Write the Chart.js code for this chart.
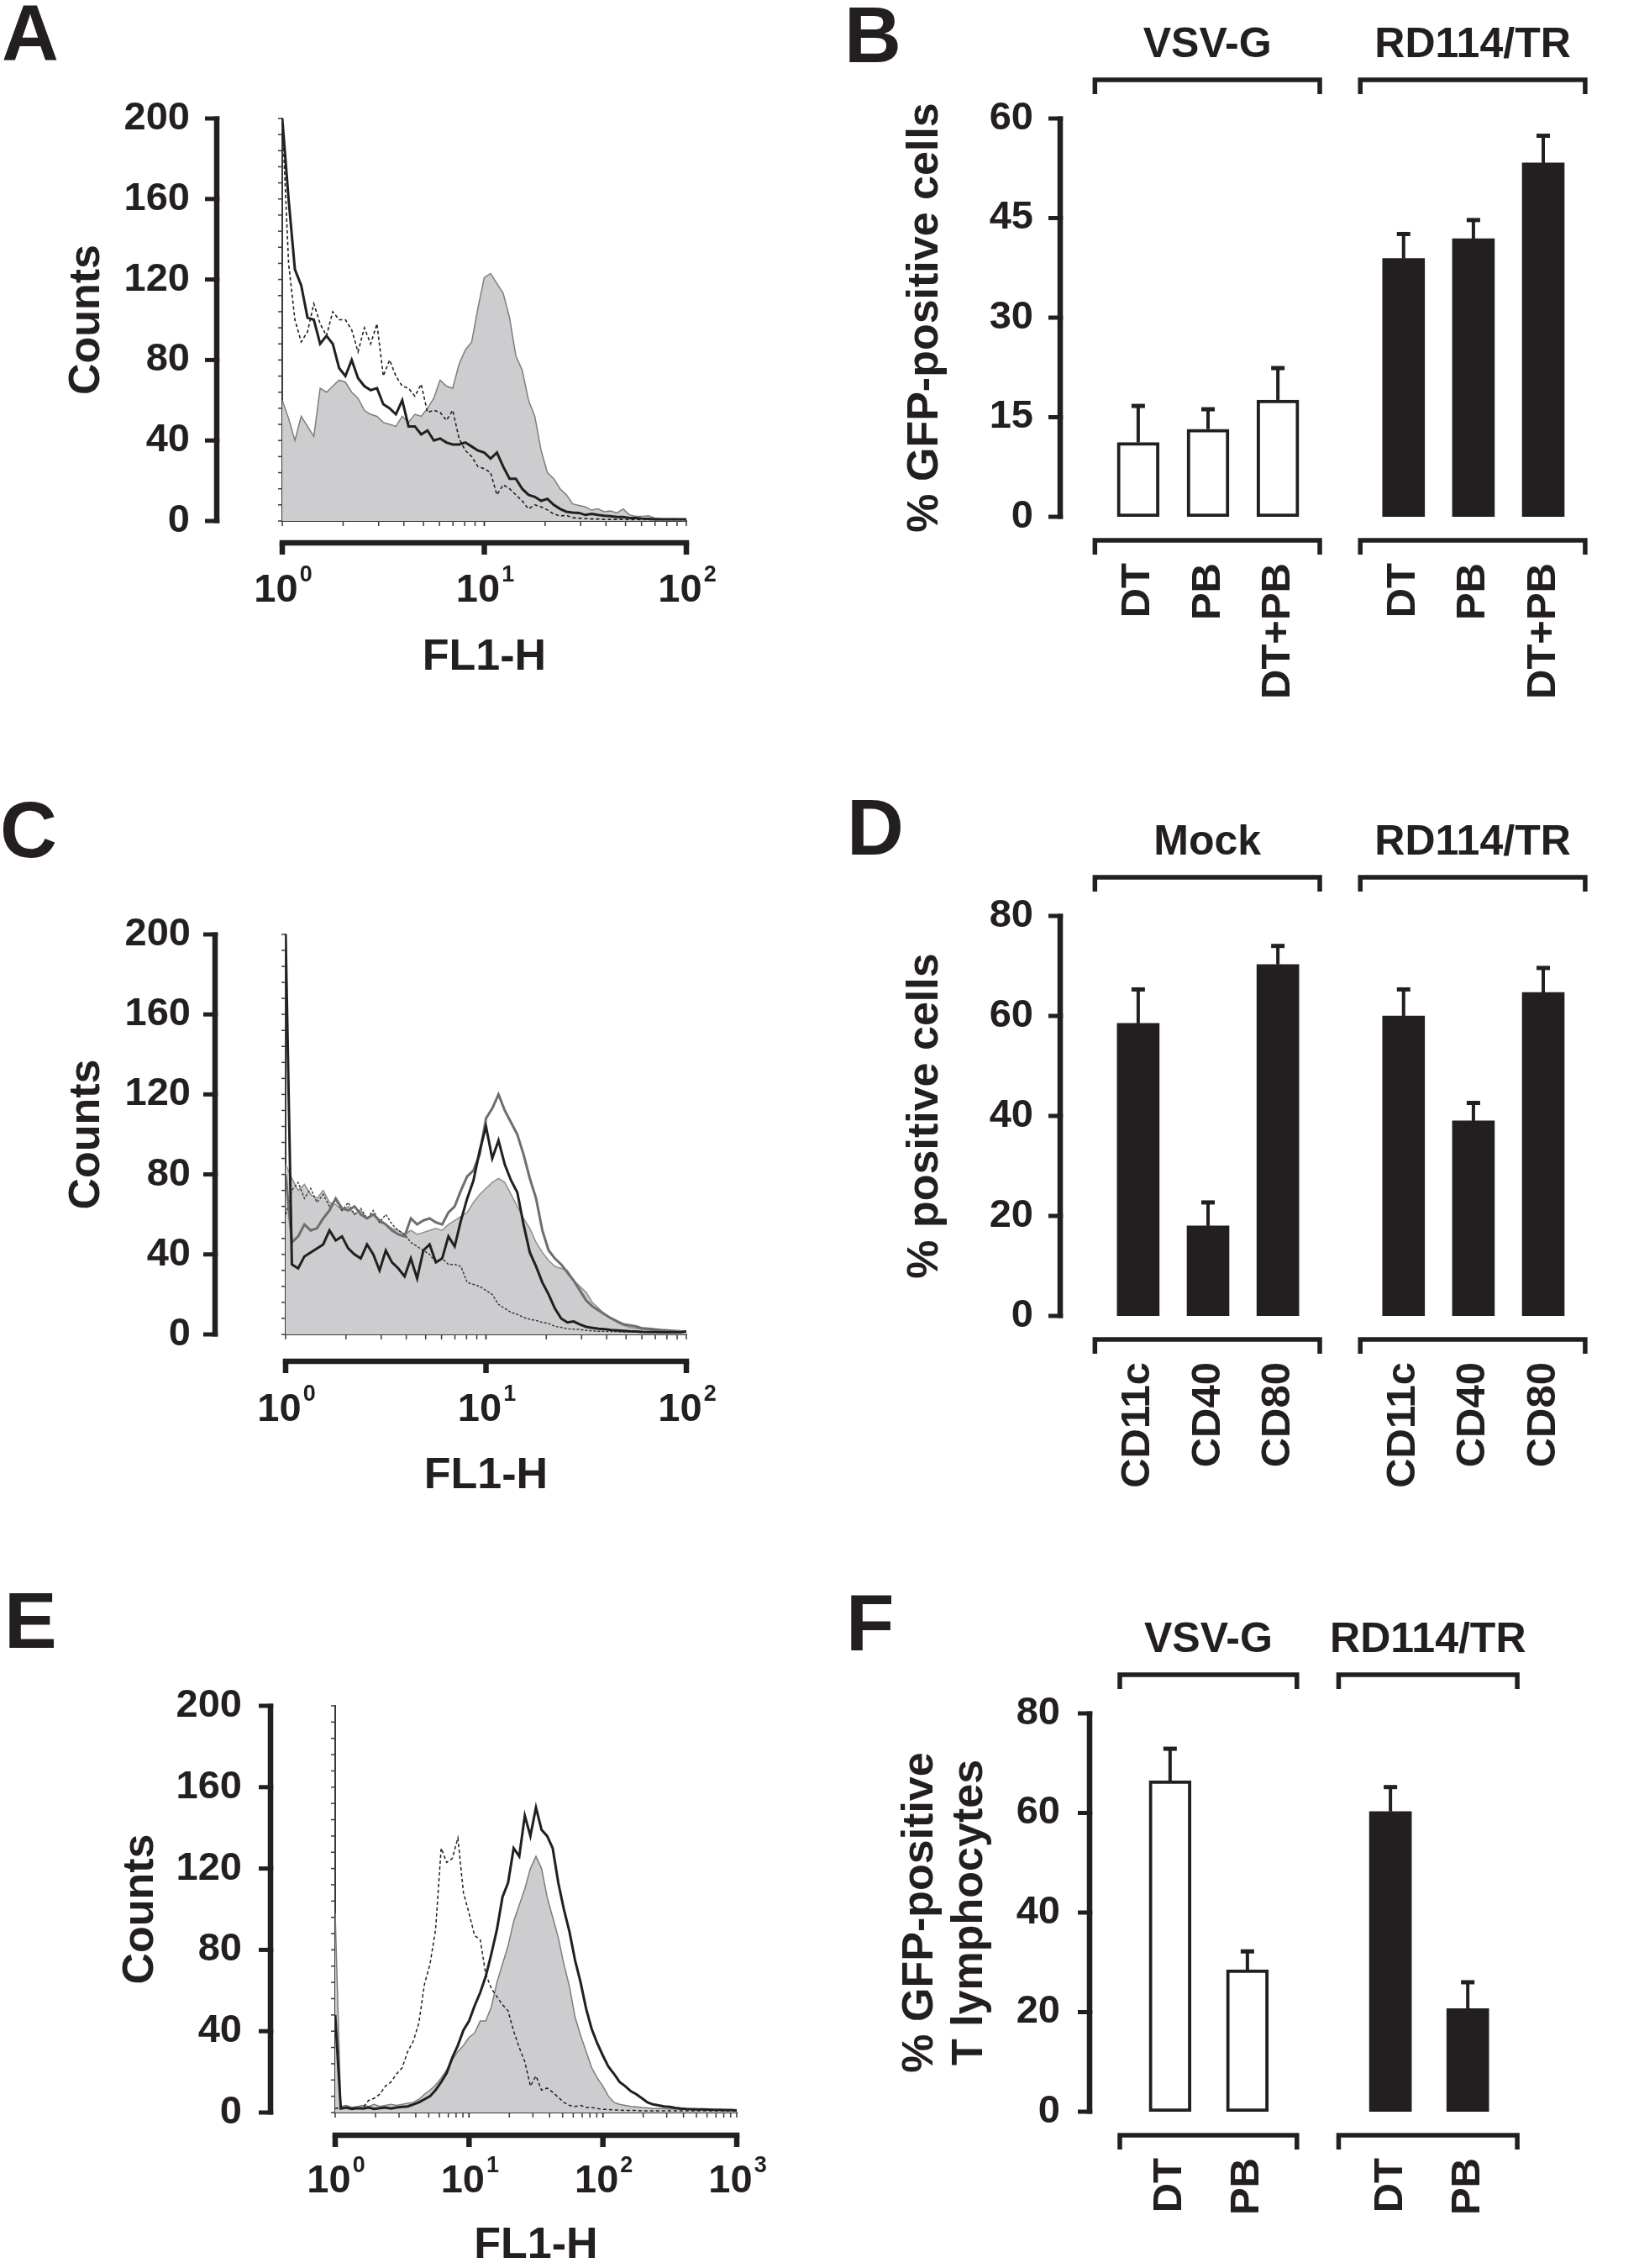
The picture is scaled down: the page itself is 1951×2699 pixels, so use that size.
<!DOCTYPE html>
<html lang="en">
<head>
  <meta charset="UTF-8">
  <title>FACS histograms and transduction bar charts</title>
  <script src="https://cdn.jsdelivr.net/npm/chart.js"></script>
  <style>
    html, body { margin: 0; padding: 0; background: #fff; }
    body { width: 1951px; height: 2699px; position: relative; overflow: hidden; }
    canvas { position: absolute; }
    .letter {
      position: absolute; z-index: 2; color: #231f20;
      font: bold 94px "Liberation Sans", Arial, Helvetica, sans-serif; line-height: 1;
    }
  </style>
</head>
<body>
  <canvas id="chartA" style="left:0;top:0" width="975" height="890"></canvas>
  <canvas id="chartB" style="left:975px;top:0" width="976" height="890"></canvas>
  <canvas id="chartC" style="left:0;top:890px" width="975" height="940"></canvas>
  <canvas id="chartD" style="left:975px;top:890px" width="976" height="940"></canvas>
  <canvas id="chartE" style="left:0;top:1830px" width="975" height="869"></canvas>
  <canvas id="chartF" style="left:975px;top:1830px" width="976" height="869"></canvas>

  <div class="letter" style="left:2px;top:-7px">A</div>
  <div class="letter" style="left:1005px;top:-5px">B</div>
  <div class="letter" style="left:0;top:941px">C</div>
  <div class="letter" style="left:1008px;top:938px">D</div>
  <div class="letter" style="left:5px;top:1882px">E</div>
  <div class="letter" style="left:1007px;top:1885px">F</div>

  <script>
    const INK = '#231f20';
    const FILL = '#cdcdd0';
    const FONT = '"Liberation Sans", Arial, Helvetica, sans-serif';

    // ---- Panel A: counts per channel, 2 decades (32 channels per decade)
    const histAGray = [60, 51, 40, 52, 47, 42, 66, 64, 67, 70, 69, 64, 61, 55, 53, 52, 49, 48, 47, 52,
      49, 53, 52, 56, 61, 70, 67, 66, 78, 85, 89, 106, 121, 123, 118, 113, 101, 82, 75, 60,
      52, 35, 24, 21, 16, 13, 8.5, 7.7, 7, 5.4, 6, 4.6, 5, 4, 6, 3, 2.3, 2.3, 2.6, 1.5, 1.2, 1, 1, 0.8, 0.8];
    const histABlack = [200, 160, 125, 117, 101, 100, 88, 92, 88, 76, 72, 80, 71, 67, 65, 66, 58, 56, 53, 60,
      47, 47, 43, 45, 40, 41, 39, 38, 38, 39, 37, 35, 34, 31, 34, 27, 21, 21, 16, 13,
      12, 10, 11, 8, 6, 4.6, 4.2, 4, 3, 3.5, 3, 2.6, 2.4, 2, 2, 1.5, 1.5, 1.2, 1, 0.8, 0.8, 0.8, 0.8, 0.8, 0.8];
    const histADotted = [200, 128, 100, 89, 94, 108, 98, 92, 104, 100, 100, 95, 84, 96, 88, 98, 72, 80, 72, 67,
      66, 62, 68, 54, 55, 54, 50, 55, 41, 35, 32, 27, 26, 24, 13, 18, 16, 13, 10, 6,
      8, 7, 5.5, 3.5, 2.5, 2.8, 1.6, 1.4, 1.2, 1, 1, 0.8, 0.8, 0.8, 0.8, 0.6, 0.6, 0.6, 0.6, 0.6, 0.6, 0.6, 0.6, 0.6, 0.6];

    // ---- Panel C: 2 decades (32 channels per decade)
    const histCFill = [85, 78, 72, 75, 70, 68, 72, 66, 65, 62, 64, 60, 62, 58, 60, 56, 55, 53, 52, 50,
      52, 50, 51, 52, 53, 52, 55, 57, 59, 61, 66, 70, 73, 76, 78, 76, 70, 64, 58, 53,
      46, 41, 37, 34, 33, 32, 27, 24, 21, 16, 13, 10, 8, 6, 4.5, 3.5, 3, 2.5, 2.2, 2, 1.8, 1.6, 1.5, 1.3, 1.2];
    const histCGray = [80, 46, 49, 55, 52, 53, 58, 62, 68, 63, 62, 64, 60, 58, 60, 57, 55, 52, 50, 49,
      58, 55, 57, 58, 56, 55, 61, 64, 72, 79, 82, 90, 108, 113, 120, 112, 106, 100, 90, 78,
      68, 52, 42, 38, 35, 31, 27, 22, 17, 14, 12, 10, 8, 6.5, 5, 4.5, 4, 3, 2.8, 2.5, 2.2, 2, 1.8, 1.6, 1.5];
    const histCBlack = [200, 35, 33, 39, 41, 43, 45, 52, 47, 49, 43, 40, 38, 45, 40, 32, 42, 36, 33, 29,
      38, 28, 42, 45, 36, 38, 49, 44, 57, 68, 77, 92, 104, 88, 97, 85, 77, 71, 55, 41,
      34, 26, 20, 13, 8, 6, 6.5, 5, 3.8, 3.3, 2.8, 2.6, 2.2, 2, 1.8, 1.6, 1.5, 1.3, 1.2, 1.2, 1.1, 1, 1, 1, 1.5];
    const histCDotted = [60, 72, 76, 68, 73, 66, 70, 64, 67, 62, 66, 60, 63, 58, 62, 56, 60, 55, 52, 50,
      46, 44, 42, 40, 36, 38, 35, 35, 34, 26, 25, 24, 22, 20, 15, 13, 11, 10, 8.5, 7.5,
      7, 6, 5.5, 4, 3.5, 2.8, 2.6, 2.5, 2, 1.8, 1.6, 1.5, 1.4, 1.3, 1.2, 1.2, 1.1, 1, 1, 1, 1, 1, 1, 1, 1];

    // ---- Panel E: 3 decades (24 channels per decade)
    const histEFill = [98, 3, 3.5, 2.5, 3, 3.5, 3, 4, 3, 3.5, 4, 3.5, 4, 4.5, 5, 6.5, 9, 11, 13.5, 17,
      21, 26, 30, 33, 37, 39, 45, 45, 52, 64, 73, 82, 94, 102, 110, 120, 126, 120, 106, 96,
      86, 73, 62, 47, 38, 30, 22, 17, 13, 8, 5, 4, 3.5, 3, 2.8, 2.5, 2.3, 2, 2, 2,
      1.8, 1.8, 1.5, 1.5, 1.5, 1.3, 1.3, 1.2, 1.2, 1, 1, 1, 0.8];
    const histEBlack = [48, 2, 2.5, 1.8, 2.2, 2, 2.5, 1.8, 2.2, 2.5, 2, 2.5, 2.8, 3, 4, 5, 6.5, 8, 11, 15,
      19.5, 27, 33, 40.5, 45, 52.5, 59, 67, 78, 90, 106, 113, 130, 126, 146, 136, 150, 139, 136, 130,
      113, 100, 89, 75, 64, 51, 41, 34, 28, 22.5, 19, 15, 13, 10.5, 9, 7, 5, 4, 3.5, 3,
      2.8, 2.3, 2, 1.8, 1.7, 1.6, 1.5, 1.4, 1.3, 1.3, 1.2, 1.2, 1];
    const histEDotted = [2, 2.5, 2, 2.5, 2, 2.5, 6, 7, 9, 13, 15, 19, 22, 30, 35, 44, 63, 73, 90, 130,
      123, 125, 135, 108, 98, 87, 85, 68, 61, 57, 53, 50, 40, 32, 25, 13, 18, 11, 12, 10,
      7.5, 5, 3.5, 3, 3.5, 2.5, 2.5, 2, 1.5, 1.5, 1.2, 1.2, 1, 1, 1, 0.8, 0.8, 0.8, 0.8, 0.8,
      0.8, 0.8, 0.8, 0.8, 0.8, 0.8, 0.8, 0.8, 0.8, 0.8, 0.8, 0.8, 0.8];

    // ---- Panel B: % GFP-positive cells
    const treatments = ['DT', 'PB', 'DT+PB'];
    const gfpVSVG = [11.2, 13.2, 17.6];
    const gfpVSVGErr = [5.5, 3.0, 4.8];
    const gfpRD114 = [38.9, 41.9, 53.3];
    const gfpRD114Err = [3.7, 2.8, 4.1];

    // ---- Panel D: % positive cells
    const markers = ['CD11c', 'CD40', 'CD80'];
    const posMock = [58.5, 18.0, 70.3];
    const posMockErr = [6.8, 4.7, 3.7];
    const posRD114 = [60.0, 39.0, 64.7];
    const posRD114Err = [5.3, 3.6, 4.9];

    // ---- Panel F: % GFP-positive T lymphocytes
    const treatmentsT = ['DT', 'PB'];
    const tcellVSVG = [66.5, 28.5];
    const tcellVSVGErr = [6.4, 3.7];
    const tcellRD114 = [60.3, 20.7];
    const tcellRD114Err = [4.9, 5.3];

    Chart.defaults.font.family = FONT;
    Chart.defaults.color = INK;

    // draws the detached axes, brackets, group labels and error bars
    const decor = {
      id: 'decor',
      afterDraw(chart, args, o) {
        const ctx = chart.ctx;
        const area = chart.chartArea;
        const xs = chart.scales.x;
        const ys = chart.scales.y;
        const line = (x1, y1, x2, y2) => { ctx.beginPath(); ctx.moveTo(x1, y1); ctx.lineTo(x2, y2); ctx.stroke(); };
        ctx.save();
        ctx.strokeStyle = INK;
        ctx.fillStyle = INK;
        ctx.lineCap = 'butt';
        ctx.lineJoin = 'miter';

        // value axis, pulled away from the plot
        const ax = area.left - o.yGap;
        ctx.lineWidth = o.axisWidth;
        line(ax, ys.getPixelForValue(ys.max) - 2.5, ax, ys.getPixelForValue(ys.min) + 2.5);
        ctx.lineWidth = 5;
        ys.ticks.forEach(t => {
          const py = ys.getPixelForValue(t.value);
          line(ax + o.axisWidth / 2, py, ax - o.tickLen, py);
        });

        if (o.decades) {
          const per = o.perDecade;
          // small ticks on the histogram frame
          ctx.lineWidth = 1.5;
          ctx.strokeStyle = '#3a3a3a';
          for (let v = 0; v <= ys.max; v += 8) {
            const py = ys.getPixelForValue(v);
            line(area.left, py, area.left - 5, py);
          }
          for (let d = 0; d < o.decades; d++) {
            for (let k = 1; k <= 10; k++) {
              const px = xs.getPixelForValue((d + Math.log10(k)) * per);
              line(px, area.bottom, px, area.bottom + 6);
            }
          }
          // log axis below
          ctx.strokeStyle = INK;
          ctx.lineWidth = o.axisWidth;
          const axY = area.bottom + o.xGap;
          const x0 = xs.getPixelForValue(0);
          const x1 = xs.getPixelForValue(o.decades * per);
          line(x0 - o.axisWidth / 2, axY, x1 + o.axisWidth / 2, axY);
          for (let d = 0; d <= o.decades; d++) {
            const px = xs.getPixelForValue(d * per);
            line(px, axY, px, axY + o.tickLen);
            ctx.font = 'bold 47px ' + FONT;
            const wBase = ctx.measureText('10').width;
            ctx.font = 'bold 27px ' + FONT;
            const wExp = ctx.measureText(String(d)).width;
            const lx = px - (wBase + wExp) / 2;
            ctx.textAlign = 'left';
            ctx.textBaseline = 'middle';
            ctx.font = 'bold 47px ' + FONT;
            ctx.fillText('10', lx, area.bottom + o.labelOffset);
            ctx.font = 'bold 27px ' + FONT;
            ctx.fillText(String(d), lx + wBase + 2, area.bottom + o.labelOffset - 18);
          }
        }

        if (o.brackets) {
          ctx.lineWidth = 5.5;
          o.brackets.forEach(b => {
            const bx1 = xs.getPixelForValue(b.from);
            const bx2 = xs.getPixelForValue(b.to);
            [area.top + o.topBracket, area.bottom + o.bottomBracket].forEach(by => {
              ctx.beginPath();
              ctx.moveTo(bx1, by + 17);
              ctx.lineTo(bx1, by);
              ctx.lineTo(bx2, by);
              ctx.lineTo(bx2, by + 17);
              ctx.stroke();
            });
            ctx.font = 'bold 50px ' + FONT;
            ctx.textAlign = 'center';
            ctx.textBaseline = 'middle';
            ctx.fillText(b.label, (bx1 + bx2) / 2, area.top + o.labelY);
          });
        }

        // upper error bars
        chart.data.datasets.forEach((ds, i) => {
          if (!ds.errors) return;
          chart.getDatasetMeta(i).data.forEach((bar, j) => {
            const top = ys.getPixelForValue(ds.data[j].y + ds.errors[j]);
            ctx.lineWidth = 4;
            line(bar.x, bar.y, bar.x, top);
            ctx.fillRect(bar.x - 8, top - 2.5, 16, 5);
          });
        });
        ctx.restore();
      }
    };

    function histChart(id, c) {
      return new Chart(document.getElementById(id), {
        type: 'line',
        data: {
          datasets: c.series.map(s => ({
            data: s.values.map((v, i) => ({ x: i, y: v })),
            borderColor: s.color,
            borderWidth: s.width,
            borderDash: s.dash || [],
            backgroundColor: s.fill || 'rgba(0,0,0,0)',
            fill: s.fill ? 'origin' : false,
            order: s.order,
            pointRadius: 0,
            tension: 0
          }))
        },
        options: {
          responsive: false,
          animation: false,
          devicePixelRatio: 1,
          layout: { padding: { top: c.top, right: c.right, bottom: 0, left: 0 } },
          plugins: {
            legend: { display: false },
            tooltip: { enabled: false },
            decor: {
              yGap: c.yGap, axisWidth: 6.5, tickLen: 14,
              decades: c.decades, perDecade: c.perDecade,
              xGap: c.xGap, labelOffset: c.labelOffset
            }
          },
          scales: {
            x: {
              type: 'linear', min: 0, max: c.decades * c.perDecade, offset: false,
              grid: { display: false, drawTicks: false },
              border: { display: true, width: 2, color: '#3a3a3a' },
              ticks: { display: false },
              title: {
                display: true, text: 'FL1-H', color: INK,
                font: { size: 52, weight: 'bold', lineHeight: c.xTitleLH },
                padding: { top: 0, bottom: c.xTitlePad }
              },
              afterFit: s => { s.height = c.xH; }
            },
            y: {
              min: 0, max: 200,
              grid: { display: false, drawTicks: false },
              border: { display: true, width: 2, color: '#3a3a3a' },
              ticks: { stepSize: 40, padding: c.yTickPad, color: INK, font: { size: 47, weight: 'bold' } },
              title: {
                display: true, text: 'Counts', color: INK,
                font: { size: 52, weight: 'bold' },
                padding: { top: c.yTitlePad, bottom: 0 }
              },
              afterFit: s => { s.width = c.yW; }
            }
          }
        },
        plugins: [decor]
      });
    }

    function barChart(id, c) {
      return new Chart(document.getElementById(id), {
        type: 'bar',
        data: {
          datasets: c.groups.map(g => ({
            data: g.values.map((v, i) => ({ x: g.pos[i], y: v })),
            errors: g.errors,
            backgroundColor: g.open ? '#ffffff' : INK,
            borderColor: INK,
            borderWidth: g.open ? 4 : 0,
            borderSkipped: false,
            barThickness: 50,
            grouped: false
          }))
        },
        options: {
          responsive: false,
          animation: false,
          devicePixelRatio: 1,
          layout: { padding: { top: c.top, right: c.right, bottom: 0, left: 0 } },
          plugins: {
            legend: { display: false },
            tooltip: { enabled: false },
            decor: {
              yGap: c.yGap, axisWidth: 6.5, tickLen: 14,
              brackets: c.brackets, topBracket: -46, bottomBracket: 28, labelY: -87
            }
          },
          scales: {
            x: {
              type: 'linear', min: c.xMin, max: c.xMax, offset: false,
              grid: { display: false, drawTicks: false },
              border: { display: false },
              afterBuildTicks: s => { s.ticks = c.tickPos.map(v => ({ value: v })); },
              ticks: {
                autoSkip: false, minRotation: 90, maxRotation: 90, padding: 55,
                color: INK, font: { size: 49, weight: 'bold' },
                callback: (v, i) => c.tickNames[i]
              },
              afterFit: s => { s.height = c.xH; }
            },
            y: {
              min: 0, max: c.yMax,
              grid: { display: false, drawTicks: false },
              border: { display: false },
              ticks: { stepSize: c.yStep, padding: c.yTickPad, color: INK, font: { size: 47, weight: 'bold' } },
              title: {
                display: true, text: c.yTitle, color: INK,
                font: { size: 52, weight: 'bold', lineHeight: 1.12 },
                padding: { top: c.yTitlePad, bottom: 0 }
              },
              afterFit: s => { s.width = c.yW; }
            }
          }
        },
        plugins: [decor]
      });
    }

    const grey = '#7d7d7d';

    histChart('chartA', {
      top: 141, right: 158, yW: 336, xH: 270,
      yGap: 78, yTickPad: 110, yTitlePad: 72,
      decades: 2, perDecade: 32, xGap: 26, labelOffset: 83, xTitlePad: 76, xTitleLH: 1.2,
      series: [
        { values: histABlack, color: INK, width: 3, order: 1 },
        { values: histADotted, color: INK, width: 1.6, dash: [4, 3], order: 2 },
        { values: histAGray, color: grey, width: 1.5, fill: FILL, order: 3 }
      ]
    });

    histChart('chartC', {
      top: 222, right: 158, yW: 340, xH: 242,
      yGap: 84, yTickPad: 113, yTitlePad: 72,
      decades: 2, perDecade: 32, xGap: 32, labelOffset: 90, xTitlePad: 42, xTitleLH: 1.2,
      series: [
        { values: histCBlack, color: INK, width: 3, order: 1 },
        { values: histCGray, color: '#6e6e6e', width: 3, order: 2 },
        { values: histCDotted, color: '#333333', width: 1.4, dash: [3, 2], order: 3 },
        { values: histCFill, color: '#8f8f8f', width: 1.5, fill: FILL, order: 4 }
      ]
    });

    histChart('chartE', {
      top: 200, right: 98, yW: 399, xH: 185,
      yGap: 77, yTickPad: 111, yTitlePad: 136,
      decades: 3, perDecade: 24, xGap: 27, labelOffset: 82, xTitlePad: 0, xTitleLH: 1.0,
      series: [
        { values: histEBlack, color: INK, width: 3, order: 1 },
        { values: histEDotted, color: INK, width: 1.5, dash: [4, 3], order: 2 },
        { values: histEFill, color: grey, width: 1.5, fill: FILL, order: 3 }
      ]
    });

    barChart('chartB', {
      top: 141, right: 2, yW: 330, xH: 275,
      xMin: -0.6, xMax: 6.4, yMax: 60, yStep: 15,
      yGap: 43, yTickPad: 75, yTitlePad: 98,
      yTitle: '% GFP-positive cells',
      tickPos: [0, 1, 2, 3.8, 4.8, 5.8],
      tickNames: treatments.concat(treatments),
      groups: [
        { pos: [0, 1, 2], values: gfpVSVG, errors: gfpVSVGErr, open: true },
        { pos: [3.8, 4.8, 5.8], values: gfpRD114, errors: gfpRD114Err, open: false }
      ],
      brackets: [
        { from: -0.62, to: 2.6, label: 'VSV-G' },
        { from: 3.18, to: 6.4, label: 'RD114/TR' }
      ]
    });

    barChart('chartD', {
      top: 200, right: 2, yW: 330, xH: 264,
      xMin: -0.6, xMax: 6.4, yMax: 80, yStep: 20,
      yGap: 43, yTickPad: 75, yTitlePad: 98,
      yTitle: '% positive cells',
      tickPos: [0, 1, 2, 3.8, 4.8, 5.8],
      tickNames: markers.concat(markers),
      groups: [
        { pos: [0, 1, 2], values: posMock, errors: posMockErr, open: false },
        { pos: [3.8, 4.8, 5.8], values: posRD114, errors: posRD114Err, open: false }
      ],
      brackets: [
        { from: -0.62, to: 2.6, label: 'Mock' },
        { from: 3.18, to: 6.4, label: 'RD114/TR' }
      ]
    });

    barChart('chartF', {
      top: 209, right: 144, yW: 358, xH: 186,
      xMin: -0.65, xMax: 4.5, yMax: 80, yStep: 20,
      yGap: 36, yTickPad: 71, yTitlePad: 92,
      yTitle: ['% GFP-positive', 'T lymphocytes'],
      tickPos: [0, 1, 2.85, 3.85],
      tickNames: treatmentsT.concat(treatmentsT),
      groups: [
        { pos: [0, 1], values: tcellVSVG, errors: tcellVSVGErr, open: true },
        { pos: [2.85, 3.85], values: tcellRD114, errors: tcellRD114Err, open: false }
      ],
      brackets: [
        { from: -0.65, to: 1.64, label: 'VSV-G' },
        { from: 2.18, to: 4.49, label: 'RD114/TR' }
      ]
    });
  </script>
</body>
</html>
